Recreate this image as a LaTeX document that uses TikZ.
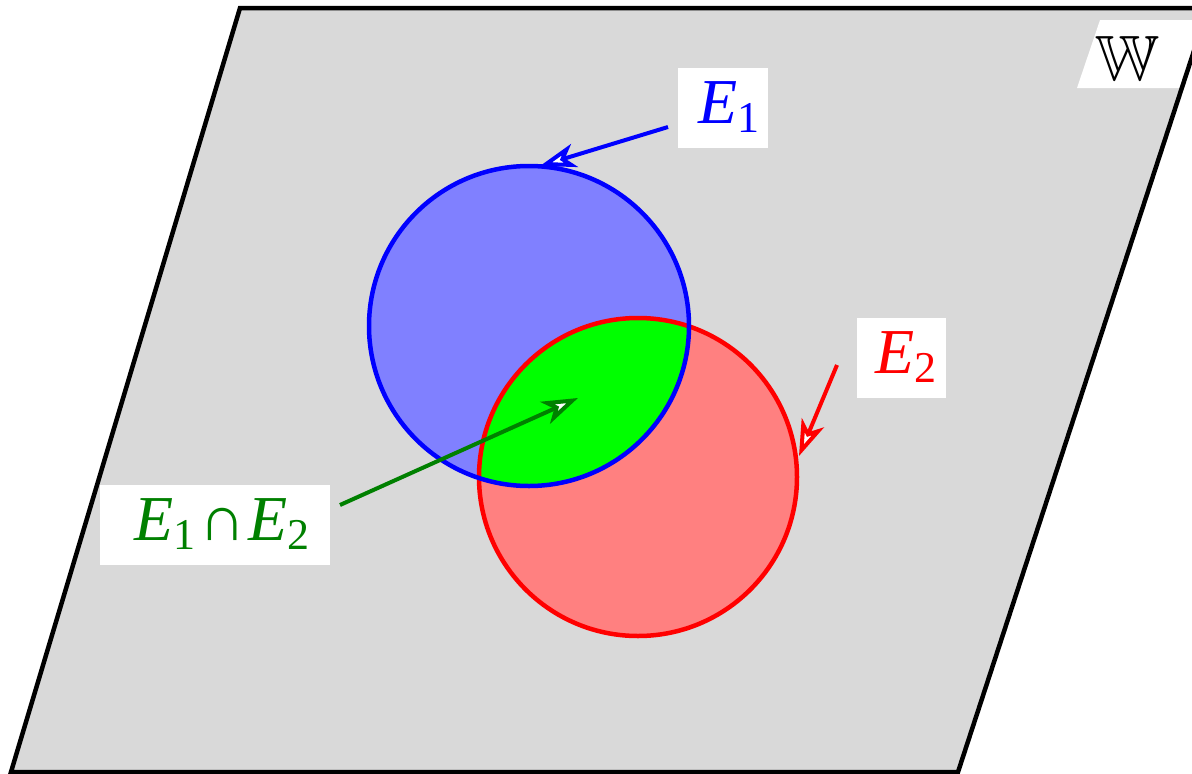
\documentclass[tikz,border=0pt]{standalone}
\usepackage{amssymb}
\usepackage{fontspec}
\setmainfont{Liberation Serif}
\usetikzlibrary{arrows.meta}
\definecolor{planegray}{RGB}{217,217,217}
\definecolor{darkgreen}{RGB}{0,128,0}
\newcommand{\Esub}[1]{\textit{E}\kern0pt\raisebox{-9pt}{\fontsize{44}{50}\selectfont #1}}
\tikzset{
  lab/.style={fill=white, inner sep=0pt, minimum height=80pt, font=\fontsize{64}{76}\selectfont},
  ptr/.style={line width=4pt, -{Stealth[length=36pt, width=24pt, inset=10pt, fill=white]}},
  circ/.style={line width=4.5pt},
}
\begin{document}
\begin{tikzpicture}[x=1pt,y=-1pt]
\useasboundingbox (0,0) rectangle (1192,774);
\clip (0,0) rectangle (1192,774);
% plane
\path[fill=planegray] (240,8) -- (1208,8) -- (958,772) -- (11,772) -- cycle;
% W label box (slanted)
\path[fill=white] (1077,88) -- (1100,20) -- (1215,20) -- (1192,88) -- cycle;
\node[inner sep=0pt, font=\fontsize{64}{76}\selectfont] (wlab) at (1127,58) {$\mathbb{W}$};
\draw[line width=4.5pt, line join=miter] (240,8) -- (1208,8) -- (958,772) -- (11,772) -- cycle;
% circles
\coordinate (c1) at (529,326);
\coordinate (c2) at (638,477);
\fill[blue!50] (c1) circle[radius=160];
\fill[red!50] (c2) circle[radius=159];
\begin{scope}
  \clip (c1) circle[radius=160];
  \fill[green] (c2) circle[radius=159];
\end{scope}
\draw[red, circ] (c2) circle[radius=159];
\draw[blue, circ] (c1) circle[radius=160];
% labels
\node[lab, minimum width=90pt, text=blue] (e1lab) at (723,108) {\hspace{12pt}\Esub{1}\strut};
\node[lab, minimum width=89pt, text=red] (e2lab) at (901,358) {\hspace{10pt}\Esub{2}\strut};
\node[lab, minimum width=230pt, text=darkgreen] (e12lab) at (215,525) {\hspace{14pt}\Esub{1}\kern4pt∩\kern2pt\Esub{2}\strut};
% arrows
\coordinate (s1) at (668,127);
\coordinate (t1) at (540,166);
\coordinate (s2) at (837,365);
\coordinate (t2) at (799,456);
\coordinate (s3) at (340,505);
\coordinate (t3) at (578,398);
\draw[ptr, blue] (s1) -- (t1);
\draw[ptr, red] (s2) -- (t2);
\draw[ptr, darkgreen] (s3) -- (t3);
\end{tikzpicture}
\end{document}
